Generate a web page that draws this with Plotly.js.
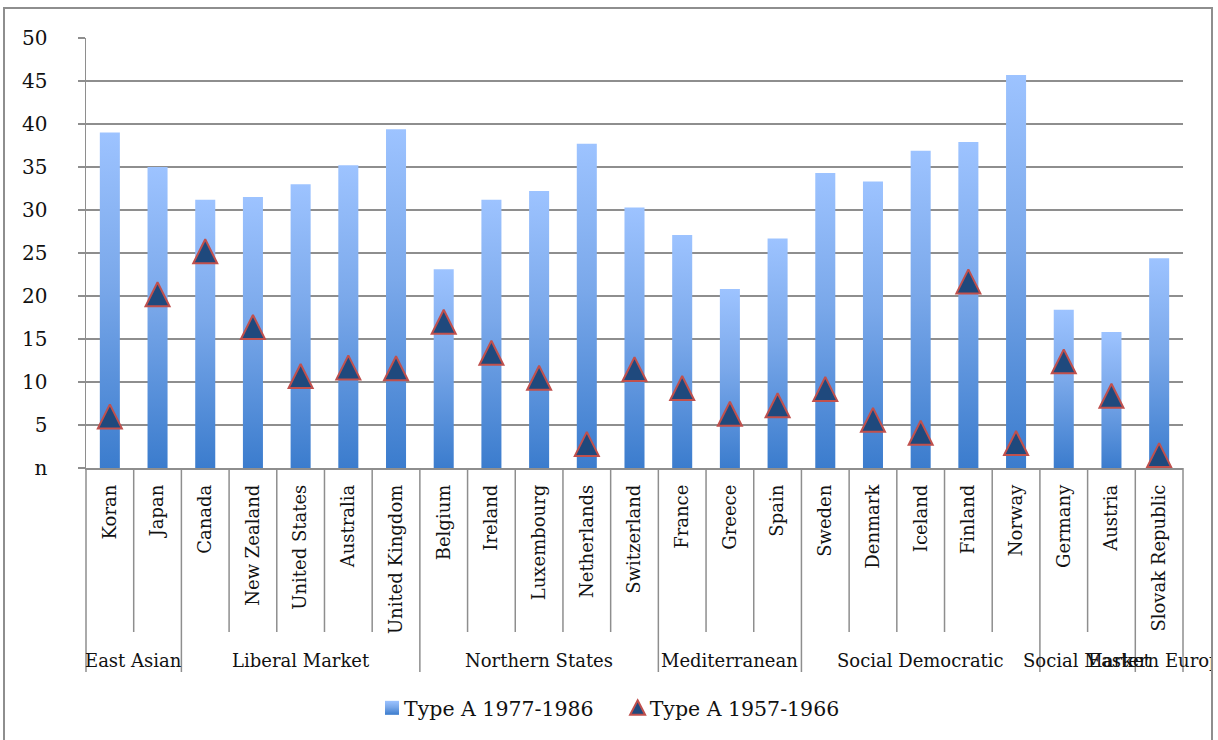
<!DOCTYPE html>
<html><head><meta charset="utf-8">
<script src="https://cdn.plot.ly/plotly-3.0.1.min.js"></script>
<style>
body{margin:0;background:#fff;}
#chart{position:absolute;left:0;top:0;width:1211px;height:740px;overflow:hidden;}
#frame{position:absolute;left:3px;top:7px;width:1210px;height:800px;border:2px solid #8e8e8e;box-sizing:border-box;pointer-events:none;}
</style></head>
<body>
<div id="chart"></div><div id="frame"></div>
<script>
const countries = ["Koran","Japan","Canada","New Zealand","United States","Australia","United Kingdom",
  "Belgium","Ireland","Luxembourg","Netherlands","Switzerland","France","Greece","Spain",
  "Sweden","Denmark","Iceland","Finland","Norway","Germany","Austria","Slovak Republic"];
const regimes = ["East Asian","East Asian","Liberal Market","Liberal Market","Liberal Market","Liberal Market","Liberal Market",
  "Northern States","Northern States","Northern States","Northern States","Northern States",
  "Mediterranean","Mediterranean","Mediterranean",
  "Social Democratic","Social Democratic","Social Democratic","Social Democratic","Social Democratic",
  "Social Market","Social Market","Eastern Europe"];
const typeA_1977_1986 = [39.0,35.0,31.2,31.5,33.0,35.2,39.4,23.1,31.2,32.2,37.7,30.3,27.1,20.8,26.7,34.3,33.3,36.9,37.9,45.7,18.4,15.8,24.4];
const typeA_1957_1966 = [6.0,20.2,25.2,16.4,10.7,11.7,11.6,17.0,13.4,10.5,2.8,11.5,9.3,6.3,7.3,9.2,5.6,4.1,21.7,2.9,12.4,8.4,1.5];
const yTickVals = [0,5,10,15,20,25,30,35,40,45,50];
const yTickText = ["n","5","10","15","20","25","30","35","40","45","50"];
const seriesNames = ["Type A 1977-1986","Type A 1957-1966"];

const FONT = "DejaVu Serif";
const GRAY = "#8e8e8e";
const plotTopPx = 38, plotBottomPx = 468;
const plotH = plotBottomPx - plotTopPx;
const n = countries.length;

// divider lines below the category axis
const shapes = [];
for (let b = 0; b <= n; b++) {
  const isGroupEdge = (b === 0 || b === n || regimes[b] !== regimes[b-1]);
  shapes.push({type:"line", xref:"paper", yref:"paper", x0:b/n, x1:b/n, y0:0,
    y1: -(isGroupEdge ? 204 : 164)/plotH, line:{color:GRAY, width:1.5}});
}
// group labels
const annotations = [];
let start = 0;
for (let i = 1; i <= n; i++) {
  if (i === n || regimes[i] !== regimes[start]) {
    const center = (start + i) / 2 / n;
    annotations.push({xref:"paper", yref:"paper", x:center, y:-(660-468)/plotH, xanchor:"center", yanchor:"middle",
      text:regimes[start], showarrow:false, font:{family:FONT, size:18, color:"#111"}});
    start = i;
  }
}

const data = [
  {type:"bar", x:countries, y:typeA_1977_1986, name:seriesNames[0],
   marker:{color:"#6c9de6", line:{width:0}}, hoverinfo:"skip"},
  {type:"scatter", mode:"markers", x:countries, y:typeA_1957_1966, name:seriesNames[1],
   marker:{symbol:"arrow-down", angle:180, standoff:12, size:24, color:"#1f497d", line:{color:"#c0504d", width:2}},
   hoverinfo:"skip"}
];

const layout = {
  width:1211, height:740,
  margin:{l:86, r:28, t:plotTopPx, b:740-plotBottomPx},
  paper_bgcolor:"#fff", plot_bgcolor:"#fff",
  font:{family:FONT, size:18, color:"#111"},
  bargap:0.58,
  showlegend:true,
  legend:{orientation:"h", x:0.48, xanchor:"center", y:-(708-468)/plotH, yanchor:"middle",
    font:{family:FONT, size:20.5, color:"#111"}, itemsizing:"constant"},
  xaxis:{type:"category", range:[-0.5, n-0.5], tickangle:-90, ticks:"", showgrid:false,
    showline:true, linecolor:GRAY, linewidth:1.5, ticklabelstandoff:8,
    tickfont:{family:FONT, size:18, color:"#111"}, fixedrange:true},
  yaxis:{range:[0,50], tickvals:yTickVals, ticktext:yTickText, ticks:"outside", ticklen:7,
    tickcolor:GRAY, tickwidth:1.5, showgrid:true, gridcolor:GRAY, gridwidth:1.5,
    showline:true, linecolor:GRAY, linewidth:1.5, zeroline:false, ticklabelstandoff:26,
    tickfont:{family:FONT, size:20, color:"#111"}, fixedrange:true},
  shapes:shapes,
  annotations:annotations
};

function setTranslate(el, dx, dy) {
  const tr = el.getAttribute("transform") || "";
  const m = tr.match(/translate\(\s*([-\d.e]+)[\s,]+([-\d.e]+)\s*\)/);
  let x = 0, y = 0;
  if (m) { x = parseFloat(m[1]); y = parseFloat(m[2]); }
  const rest = tr.replace(/translate\([^)]*\)/, "").trim();
  el.setAttribute("transform", "translate(" + (x+dx) + "," + (y+dy) + ")" + (rest ? " " + rest : ""));
}

Plotly.newPlot("chart", data, layout, {displayModeBar:false, staticPlot:true}).then(function(gd){
  const svg = gd.querySelector("svg.main-svg");
  const NS = "http://www.w3.org/2000/svg";
  let defs = svg.querySelector("defs");
  if (!defs) { defs = document.createElementNS(NS, "defs"); svg.insertBefore(defs, svg.firstChild); }
  const lg = document.createElementNS(NS, "linearGradient");
  lg.setAttribute("id","barGrad"); lg.setAttribute("x1","0"); lg.setAttribute("y1","0");
  lg.setAttribute("x2","0"); lg.setAttribute("y2","1");
  [["0%","#9dc3ff"],["45%","#7aa8ea"],["100%","#3b7ccd"]].forEach(function(s){
    const st = document.createElementNS(NS, "stop");
    st.setAttribute("offset", s[0]); st.setAttribute("stop-color", s[1]); lg.appendChild(st);
  });
  defs.appendChild(lg);
  gd.querySelectorAll(".barlayer .point path").forEach(function(p){ p.style.fill = "url(#barGrad)"; });

  // legend symbols styled like the reference
  const sb = gd.querySelector(".legend .scrollbox");
  if (sb) { sb.removeAttribute("clip-path"); sb.style.clipPath = ""; }
  const legendTraces = gd.querySelectorAll(".legend .traces");
  if (legendTraces.length >= 2) {
    const p1 = legendTraces[0].querySelector(".legendpoints path");
    if (p1) { p1.setAttribute("d","M-7,-7H7V7H-7Z"); p1.setAttribute("transform","translate(28,0)"); p1.style.fill = "url(#barGrad)"; }
    const p2 = legendTraces[1].querySelector(".legendpoints path");
    if (p2) { p2.setAttribute("d","M0,-7.5L7.5,7H-7.5Z"); p2.setAttribute("transform","translate(28,0)");
      p2.style.fill = "#1f497d"; p2.style.stroke = "#c0504d"; p2.style.strokeWidth = "2px"; }
    const t1 = legendTraces[0].querySelector("text.legendtext").getBoundingClientRect();
    const c2 = p2.getBoundingClientRect();
    setTranslate(legendTraces[1], (t1.right + 44) - (c2.left + c2.right)/2, 0);
    const c1 = p1.getBoundingClientRect();
    setTranslate(gd.querySelector(".legend"), 392 - (c1.left + c1.right)/2, 0);
  }
});
</script>
</body></html>
